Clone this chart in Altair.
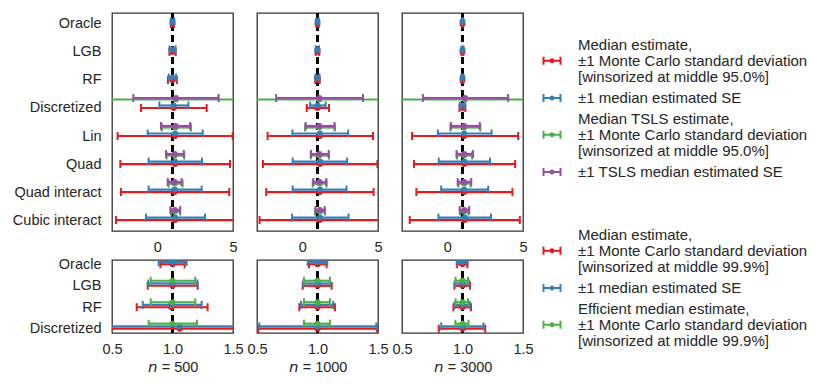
import altair as alt
import pandas as pd

# ---------------- data ----------------
TOP_METHODS = ["Oracle", "LGB", "RF", "Discretized", "Lin", "Quad",
               "Quad interact", "Cubic interact"]
BOTTOM_METHODS = ["Oracle", "LGB", "RF", "Discretized"]
SAMPLE_SIZES = [500, 1000, 3000]
TRUE_VALUE = 1.0

NB = "\u2002"
TOP_SERIES = [
    "Median estimate,|±1 Monte Carlo standard deviation|" + NB + "[winsorized at middle 95.0%]",
    "±1 median estimated SE",
    "Median TSLS estimate,|±1 Monte Carlo standard deviation|" + NB + "[winsorized at middle 95.0%]",
    "±1 TSLS median estimated SE",
]
BOTTOM_SERIES = [
    "Median estimate,|±1 Monte Carlo standard deviation|" + NB + "[winsorized at middle 99.9%]",
    "±1 median estimated SE",
    "Efficient median estimate,|±1 Monte Carlo standard deviation|" + NB + "[winsorized at middle 99.9%]",
]
TOP_COLORS = ["#e41a1c", "#377eb8", "#4daf4a", "#984ea3"]
BOTTOM_COLORS = ["#e41a1c", "#377eb8", "#4daf4a"]

# top row (order of TOP_METHODS)
TOP_MEDIAN_EST = {
    500: [1.0, 1.0, 0.99, 1.07, 1.17, 1.17, 1.14, 1.17],
    1000: [1.0, 1.0, 1.0, 1.0, 1.16, 1.16, 1.16, 1.16],
    3000: [1.0, 1.0, 1.0, 1.02, 1.11, 1.11, 1.11, 1.15],
}
TOP_MC_LO = {
    500: [0.90, 0.80, 0.70, -1.08, -2.63, -2.45, -2.41, -2.74],
    1000: [0.93, 0.88, 0.85, 0.29, -2.30, -2.61, -2.39, -2.83],
    3000: [0.955, 0.933, 0.925, 0.80, -2.34, -2.21, -2.05, -2.49],
}
TOP_MC_HI = {
    500: [1.10, 1.21, 1.29, 3.26, 4.98, 4.80, 4.75, 5.40],
    1000: [1.075, 1.117, 1.144, 1.76, 4.67, 4.96, 4.71, 5.40],
    3000: [1.04, 1.062, 1.07, 1.19, 4.68, 4.48, 4.30, 4.79],
}
TOP_SE_LO = {
    500: [0.886, 0.80, 0.754, 0.13, -0.64, -0.58, -0.58, -0.75],
    1000: [0.919, 0.883, 0.864, 0.51, -0.66, -0.64, -0.64, -0.68],
    3000: [0.952, 0.94, 0.935, 0.824, -0.63, -0.57, -0.41, -0.59],
}
TOP_SE_HI = {
    500: [1.117, 1.206, 1.241, 2.05, 3.00, 2.95, 2.93, 3.15],
    1000: [1.081, 1.103, 1.13, 1.54, 3.03, 2.96, 2.92, 3.05],
    3000: [1.042, 1.055, 1.06, 1.174, 2.92, 2.82, 2.70, 2.88],
}
TOP_TSLS_EST = {
    500: [None, None, None, 1.23, 1.20, 1.15, 1.14, 1.17],
    1000: [None, None, None, 1.12, 1.12, 1.12, 1.14, 1.16],
    3000: [None, None, None, 1.17, 1.11, 1.11, 1.11, 1.12],
}
TOP_TSLS_MC_LO = {
    500: [None, None, None, -20.0, 0.30, 0.61, 0.75, 0.90],
    1000: [None, None, None, -20.0, 0.18, 0.55, 0.68, 0.83],
    3000: [None, None, None, -20.0, 0.20, 0.64, 0.73, 0.84],
}
TOP_TSLS_MC_HI = {
    500: [None, None, None, 22.0, 2.22, 1.78, 1.67, 1.50],
    1000: [None, None, None, 22.0, 2.15, 1.76, 1.60, 1.49],
    3000: [None, None, None, 22.0, 2.18, 1.63, 1.53, 1.39],
}
TOP_TSLS_SE_LO = {
    500: [None, None, None, -1.59, 0.24, 0.57, 0.68, 0.86],
    1000: [None, None, None, -1.73, 0.22, 0.57, 0.73, 0.87],
    3000: [None, None, None, -1.62, 0.24, 0.60, 0.68, 0.81],
}
TOP_TSLS_SE_HI = {
    500: [None, None, None, 4.05, 2.16, 1.74, 1.60, 1.51],
    1000: [None, None, None, 4.01, 2.12, 1.74, 1.58, 1.47],
    3000: [None, None, None, 4.02, 2.14, 1.70, 1.58, 1.45],
}

# bottom row (order of BOTTOM_METHODS)
BOTTOM_MEDIAN_EST = {
    500: [1.0, 1.0, 0.99, 1.06],
    1000: [1.0, 1.0, 1.0, 1.0],
    3000: [1.0, 1.0, 1.0, 1.0],
}
BOTTOM_MC_LO = {
    500: [0.90, 0.795, 0.704, -1.10],
    1000: [0.93, 0.878, 0.85, 0.51],
    3000: [0.955, 0.933, 0.925, 0.804],
}
BOTTOM_MC_HI = {
    500: [1.10, 1.208, 1.29, 3.30],
    1000: [1.075, 1.117, 1.144, 1.49],
    3000: [1.04, 1.062, 1.07, 1.188],
}
BOTTOM_SE_LO = {
    500: [0.886, 0.80, 0.754, 0.13],
    1000: [0.919, 0.883, 0.864, 0.52],
    3000: [0.952, 0.94, 0.935, 0.824],
}
BOTTOM_SE_HI = {
    500: [1.117, 1.206, 1.241, 2.05],
    1000: [1.081, 1.103, 1.13, 1.486],
    3000: [1.042, 1.055, 1.06, 1.174],
}
BOTTOM_EFF_EST = {
    500: [None, 1.0, 1.0, 1.0],
    1000: [None, 1.0, 1.0, 1.0],
    3000: [None, 1.0, 1.0, 1.0],
}
BOTTOM_EFF_LO = {
    500: [None, 0.82, 0.82, 0.803],
    1000: [None, 0.888, 0.888, 0.888],
    3000: [None, 0.943, 0.943, 0.941],
}
BOTTOM_EFF_HI = {
    500: [None, 1.188, 1.188, 1.202],
    1000: [None, 1.103, 1.103, 1.103],
    3000: [None, 1.045, 1.045, 1.05],
}

# ---------------- styling ----------------
FONT = "Liberation Sans"
TXT = "#262626"
FS = 14.5
LEG_FS = 15
LINE_H = 15.8
TOP_OFFSETS = [0, -2.5, -8.5, -10]
BOTTOM_OFFSETS = [0, -2.3, -5]


def glyph(dy):
    # errorbar-like legend symbol (caps, bar and dot), shifted down by dy units
    def p(v):
        return f"{v + dy:.2f}"
    return (f"M-0.85,{p(-0.4)}L-0.85,{p(0.4)}M-0.85,{p(0)}L0.85,{p(0)}"
            f"M0.85,{p(-0.4)}L0.85,{p(0.4)}"
            f"M0.15,{p(0)}A0.15,0.15 0 1,1 -0.15,{p(0)}A0.15,0.15 0 1,1 0.15,{p(0)}Z")


def build_df(methods, series, parts):
    rows = []
    for s, (est, lo, hi) in zip(series, parts):
        for m, e, a, b in zip(methods, est, lo, hi):
            if e is None:
                continue
            rows.append({"method": m, "series": s, "est": e, "lo": a, "hi": b})
    return pd.DataFrame(rows)


def make_panel(df, methods, series, colors, offsets, x_domain, x_values, x_format,
               show_y, width, height, y_pad, x_title, legend_xy=None):
    xscale = alt.Scale(domain=x_domain, nice=False, zero=False)
    yscale = alt.Scale(type="point", domain=methods, padding=y_pad)
    xaxis = alt.Axis(values=x_values, format=x_format, title=x_title, grid=False,
                     ticks=False, domain=False, labelFlush=False, labelFontSize=FS,
                     labelColor=TXT, labelPadding=9, labelFont=FONT,
                     titleFontSize=FS, titleFontWeight="normal", titleColor=TXT,
                     titleFont=FONT, titlePadding=5)
    yaxis = (alt.Axis(title=None, grid=False, ticks=False, domain=False,
                      labelFontSize=FS, labelColor=TXT, labelPadding=11,
                      labelFont=FONT, labelLimit=300)
             if show_y else None)
    cscale = alt.Scale(domain=series, range=colors)
    base = alt.Chart(df)
    layers = []

    if legend_xy is not None:
        n_lines = [s.count("|") for s in series]
        paths = [glyph(LINE_H / 10 * (k // 2)) for k in n_lines]
        leg = alt.Legend(title=None, orient="none", legendX=legend_xy[0],
                         legendY=legend_xy[1], labelExpr="split(datum.label, '|')",
                         labelLimit=400, labelFontSize=LEG_FS, labelColor=TXT,
                         labelFont=FONT, symbolSize=400, symbolStrokeWidth=2,
                         rowPadding=2, labelOffset=15, padding=0)
        layers.append(
            base.transform_filter("false")
            .mark_point(filled=False, opacity=1, strokeWidth=2, size=400)
            .encode(
                x=alt.X("est:Q", scale=xscale, axis=xaxis),
                y=alt.Y("method:N", scale=yscale, axis=yaxis),
                color=alt.Color("series:N", scale=cscale, legend=leg),
                shape=alt.Shape("series:N", scale=alt.Scale(domain=series, range=paths),
                                legend=leg),
            )
        )

    layers.append(
        base.mark_rule(color="black", strokeWidth=2.5, strokeDash=[7, 4])
        .encode(x=alt.X(datum=TRUE_VALUE, type="quantitative", scale=xscale, axis=xaxis))
    )

    for s, off in zip(series, offsets):
        sub = base.transform_filter(alt.datum.series == s)
        col = alt.Color("series:N", scale=cscale, legend=None)
        yenc = alt.Y("method:N", scale=yscale, axis=yaxis)
        layers.append(
            sub.mark_rule(strokeWidth=2.2, yOffset=off, clip=True).encode(
                x=alt.X("lo:Q", scale=xscale, axis=xaxis), x2="hi:Q", y=yenc, color=col)
        )
        layers.append(
            sub.transform_fold(["lo", "hi"], as_=["end", "xv"])
            .mark_tick(thickness=2, size=8, yOffset=off, clip=True, opacity=1)
            .encode(x=alt.X("xv:Q", scale=xscale, axis=xaxis), y=yenc, color=col)
        )
        layers.append(
            sub.mark_circle(size=36, opacity=1, yOffset=off, clip=True).encode(
                x=alt.X("est:Q", scale=xscale, axis=xaxis), y=yenc, color=col)
        )

    return alt.layer(*layers).properties(width=width, height=height)


top_panels = []
bottom_panels = []
for i, n in enumerate(SAMPLE_SIZES):
    df_top = build_df(TOP_METHODS, TOP_SERIES, [
        (TOP_MEDIAN_EST[n], TOP_MC_LO[n], TOP_MC_HI[n]),
        (TOP_MEDIAN_EST[n], TOP_SE_LO[n], TOP_SE_HI[n]),
        (TOP_TSLS_EST[n], TOP_TSLS_MC_LO[n], TOP_TSLS_MC_HI[n]),
        (TOP_TSLS_EST[n], TOP_TSLS_SE_LO[n], TOP_TSLS_SE_HI[n]),
    ])
    df_bot = build_df(BOTTOM_METHODS, BOTTOM_SERIES, [
        (BOTTOM_MEDIAN_EST[n], BOTTOM_MC_LO[n], BOTTOM_MC_HI[n]),
        (BOTTOM_MEDIAN_EST[n], BOTTOM_SE_LO[n], BOTTOM_SE_HI[n]),
        (BOTTOM_EFF_EST[n], BOTTOM_EFF_LO[n], BOTTOM_EFF_HI[n]),
    ])
    last = i == len(SAMPLE_SIZES) - 1
    top_panels.append(make_panel(
        df_top, TOP_METHODS, TOP_SERIES, TOP_COLORS, TOP_OFFSETS,
        [-3, 5], [0, 5], "d", i == 0, 121, 218, 0.39, None,
        legend_xy=(139, 21) if last else None))
    bottom_panels.append(make_panel(
        df_bot, BOTTOM_METHODS, BOTTOM_SERIES, BOTTOM_COLORS, BOTTOM_OFFSETS,
        [0.5, 1.5], [0.5, 1.0, 1.5], ".1f", i == 0, 121, 73, 0.2,
        f"\U0001D62F = {n}",
        legend_xy=(139, -36) if last else None))

res = dict(color="independent", shape="independent", x="independent", y="independent")

chart = (
    alt.concat(*top_panels, *bottom_panels, columns=3,
               spacing={"row": 29, "column": 24}, bounds="flush")
    .resolve_scale(**res)
    .properties(padding=3, background="white")
    .configure(font=FONT, style={"guide-label": {"lineHeight": LINE_H}})
    .configure_view(stroke="#333333", strokeWidth=1.3)
)

chart.save("out.html", embed_options={"renderer": "svg", "actions": False})
